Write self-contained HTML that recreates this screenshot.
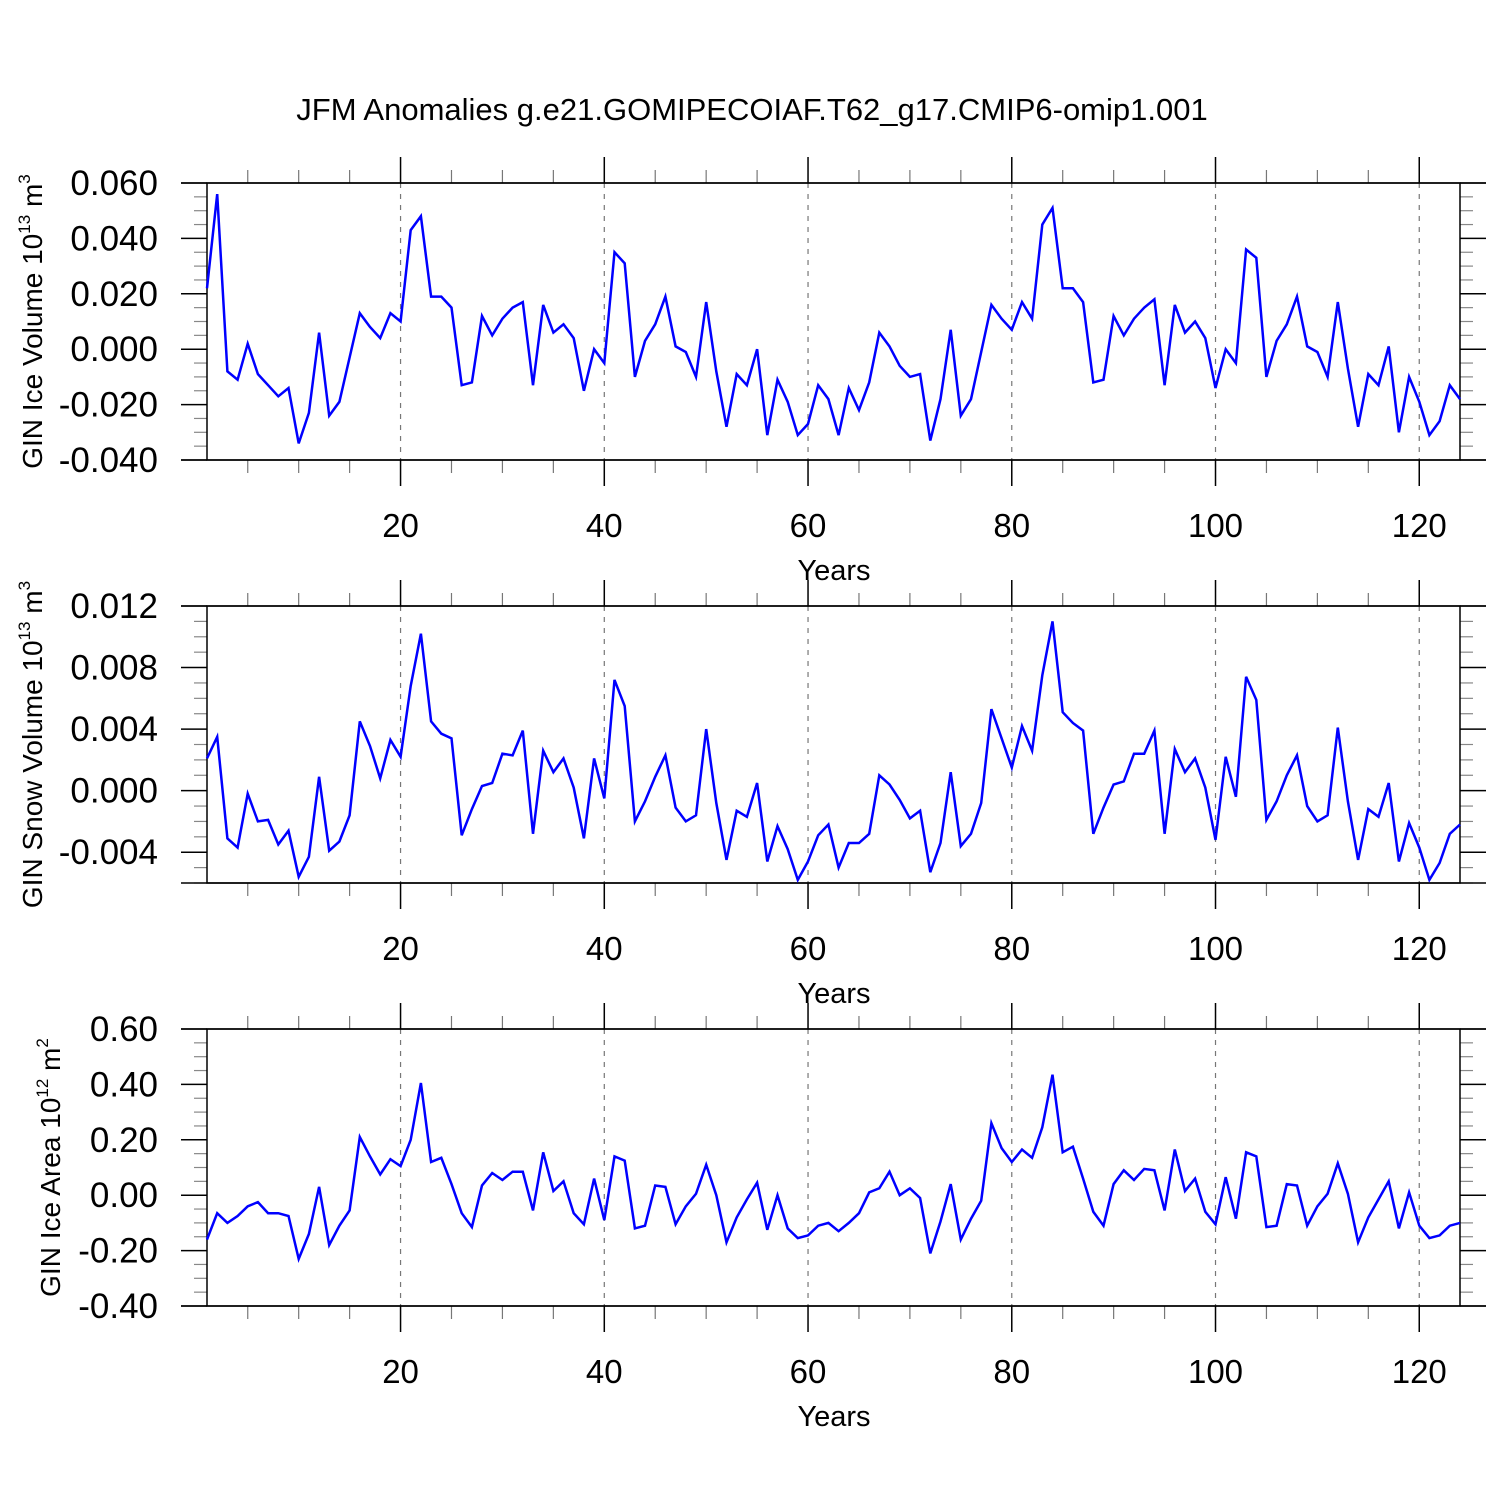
<!DOCTYPE html>
<html><head><meta charset="utf-8"><style>
html,body{margin:0;padding:0;background:#fff}
svg{display:block;font-family:"Liberation Sans",sans-serif}
</style></head><body>
<svg id="chart" width="1500" height="1500" viewBox="0 0 1500 1500">
<text x="752" y="120" font-size="31" text-anchor="middle">JFM Anomalies g.e21.GOMIPECOIAF.T62_g17.CMIP6-omip1.001</text>
</svg>
<script>
const years = Array.from({length:124},(_,i)=>i+1);
const xTicks = [20,40,60,80,100,120];
const iceVolume = [0.022,0.056,-0.008,-0.011,0.002,-0.009,-0.013,-0.017,-0.014,-0.034,-0.023,0.006,-0.024,-0.019,-0.003,0.013,0.008,0.004,0.013,0.010,0.043,0.048,0.019,0.019,0.015,-0.013,-0.012,0.012,0.005,0.011,0.015,0.017,-0.013,0.016,0.006,0.009,0.004,-0.015,0.000,-0.005,0.035,0.031,-0.010,0.003,0.009,0.019,0.001,-0.001,-0.010,0.017,-0.008,-0.028,-0.009,-0.013,0.000,-0.031,-0.011,-0.019,-0.031,-0.027,-0.013,-0.018,-0.031,-0.014,-0.022,-0.012,0.006,0.001,-0.006,-0.010,-0.009,-0.033,-0.018,0.007,-0.024,-0.018,-0.001,0.016,0.011,0.007,0.017,0.011,0.045,0.051,0.022,0.022,0.017,-0.012,-0.011,0.012,0.005,0.011,0.015,0.018,-0.013,0.016,0.006,0.010,0.004,-0.014,0.000,-0.005,0.036,0.033,-0.010,0.003,0.009,0.019,0.001,-0.001,-0.010,0.017,-0.007,-0.028,-0.009,-0.013,0.001,-0.030,-0.010,-0.019,-0.031,-0.026,-0.013,-0.018];
const snowVolume = [0.0021,0.0035,-0.0031,-0.0037,-0.0002,-0.0020,-0.0019,-0.0035,-0.0026,-0.0056,-0.0043,0.0009,-0.0039,-0.0033,-0.0016,0.0045,0.0029,0.0008,0.0033,0.0022,0.0068,0.0102,0.0045,0.0037,0.0034,-0.0029,-0.0012,0.0003,0.0005,0.0024,0.0023,0.0039,-0.0028,0.0026,0.0012,0.0021,0.0002,-0.0031,0.0021,-0.0005,0.0072,0.0055,-0.0020,-0.0007,0.0009,0.0023,-0.0011,-0.0020,-0.0016,0.0040,-0.0008,-0.0045,-0.0013,-0.0017,0.0005,-0.0046,-0.0023,-0.0038,-0.0058,-0.0046,-0.0029,-0.0022,-0.0050,-0.0034,-0.0034,-0.0028,0.0010,0.0004,-0.0006,-0.0018,-0.0013,-0.0053,-0.0034,0.0012,-0.0036,-0.0028,-0.0008,0.0053,0.0034,0.0015,0.0042,0.0026,0.0075,0.0110,0.0051,0.0044,0.0039,-0.0028,-0.0011,0.0004,0.0006,0.0024,0.0024,0.0039,-0.0028,0.0027,0.0012,0.0021,0.0002,-0.0032,0.0022,-0.0004,0.0074,0.0059,-0.0019,-0.0007,0.0010,0.0023,-0.0010,-0.0020,-0.0016,0.0041,-0.0007,-0.0045,-0.0012,-0.0017,0.0005,-0.0046,-0.0021,-0.0037,-0.0058,-0.0047,-0.0028,-0.0022];
const iceArea = [-0.16,-0.065,-0.10,-0.075,-0.04,-0.025,-0.065,-0.065,-0.075,-0.23,-0.14,0.03,-0.18,-0.11,-0.055,0.21,0.14,0.075,0.13,0.105,0.20,0.405,0.12,0.135,0.04,-0.065,-0.115,0.035,0.08,0.055,0.085,0.085,-0.055,0.155,0.015,0.05,-0.065,-0.105,0.06,-0.09,0.14,0.125,-0.12,-0.11,0.035,0.03,-0.105,-0.04,0.005,0.11,0.00,-0.17,-0.08,-0.015,0.045,-0.125,0.00,-0.12,-0.155,-0.145,-0.11,-0.10,-0.13,-0.10,-0.065,0.01,0.025,0.085,0.00,0.025,-0.01,-0.21,-0.095,0.04,-0.16,-0.085,-0.02,0.26,0.17,0.12,0.165,0.135,0.245,0.435,0.155,0.175,0.06,-0.06,-0.11,0.04,0.09,0.055,0.095,0.09,-0.055,0.165,0.015,0.06,-0.06,-0.105,0.065,-0.085,0.155,0.14,-0.115,-0.11,0.04,0.035,-0.11,-0.04,0.005,0.115,0.005,-0.17,-0.08,-0.015,0.05,-0.12,0.01,-0.11,-0.155,-0.145,-0.11,-0.10];
const yTicks1 = [-0.04,-0.02,0,0.02,0.04,0.06];
const yLabels1 = ["-0.040","-0.020","0.000","0.020","0.040","0.060"];
const yTicks2 = [-0.004,0,0.004,0.008,0.012];
const yLabels2 = ["-0.004","0.000","0.004","0.008","0.012"];
const yTicks3 = [-0.4,-0.2,0,0.2,0.4,0.6];
const yLabels3 = ["-0.40","-0.20","0.00","0.20","0.40","0.60"];

const NS="http://www.w3.org/2000/svg";
const svg=document.getElementById('chart');
function mk(tag,attrs,parent){const e=document.createElementNS(NS,tag);for(const k in attrs)e.setAttribute(k,attrs[k]);(parent||svg).appendChild(e);return e;}
const X0=207,X1=1460,xmin=1,xmax=124;
const xs=v=>X0+(v-xmin)/(xmax-xmin)*(X1-X0);

function panel(name,top,ymin,ymax,minorStep,vals,yt,yl,titleMain,exp,unit,titleX){
  const H=277,bot=top+H;
  const ys=v=>bot-(v-ymin)/(ymax-ymin)*H;
  const g=mk('g',{});
  
  
  xTicks.forEach(t=>{const l=mk('line',{x1:xs(t),x2:xs(t),y1:top,y2:bot,stroke:'#777','stroke-width':1.2,'stroke-dasharray':'5,6'},g);
    
    });
  for(let t=5;t<=120;t+=5){const maj=t%20===0;const L=maj?26:13;
    const a=mk('line',{x1:xs(t),x2:xs(t),y1:top-L,y2:top,stroke:maj?'#000':'#777','stroke-width':maj?1.5:1.2},g);
    
    
    const b=mk('line',{x1:xs(t),x2:xs(t),y1:bot,y2:bot+L,stroke:maj?'#000':'#777','stroke-width':maj?1.5:1.2},g);
    
    }
  const nMin=Math.round((ymax-ymin)/minorStep);
  for(let i=0;i<=nMin;i++){const v=ymin+i*minorStep;const maj=yt.some(t=>Math.abs(t-v)<minorStep/10);
    const L=maj?26:13;const y=ys(v);
    const a=mk('line',{x1:X0-L,x2:X0,y1:y,y2:y,stroke:maj?'#000':'#888','stroke-width':maj?1.5:1.2},g);
    
    
    const b=mk('line',{x1:X1,x2:X1+L,y1:y,y2:y,stroke:maj?'#000':'#888','stroke-width':maj?1.5:1.2},g);
    
    }
  const f=mk('rect',{x:X0,y:top,width:X1-X0,height:H,fill:'none',stroke:'#000','stroke-width':1.5},g);
  
  
  const ta=mk('line',{x1:X0-26,x2:X1+26,y1:top,y2:top,stroke:'#000','stroke-width':1.5},g);
  
  
  const ba=mk('line',{x1:X0-26,x2:X1+26,y1:bot,y2:bot,stroke:'#000','stroke-width':1.5},g);
  
  
  yt.forEach((t,i)=>{const tx=mk('text',{x:158,y:ys(t)+12,'font-size':35,'text-anchor':'end'},g);tx.textContent=yl[i];
    
    });
  xTicks.forEach(t=>{const tx=mk('text',{x:xs(t),y:bot+77,'font-size':33,'text-anchor':'middle'},g);tx.textContent=t;
    
    });
  const xt=mk('text',{x:834,y:bot+120,'font-size':29,'text-anchor':'middle'},g);xt.textContent='Years';
  
  
  const cy=top+H/2;
  const yttl=mk('text',{transform:`translate(${titleX},${cy}) rotate(-90)`,'font-size':28,'text-anchor':'middle'},g);
  
  
  const s1=mk('tspan',{},yttl);s1.textContent=titleMain+' 10';
  const s2=mk('tspan',{dy:-12,'font-size':17},yttl);s2.textContent=exp;
  const s3=mk('tspan',{dy:12},yttl);s3.textContent=' m';
  const s4=mk('tspan',{dy:-12,'font-size':17},yttl);s4.textContent=unit;
  const pts=vals.map((v,i)=>xs(years[i]).toFixed(1)+','+ys(v).toFixed(1)).join(' ');
  const pl=mk('polyline',{points:pts,fill:'none',stroke:'#0000ff','stroke-width':2.5,'stroke-linejoin':'miter'},g);
  
  
}
panel('ice-volume',183,-0.04,0.06,0.005,iceVolume,yTicks1,yLabels1,'GIN Ice Volume','13','3',42);
panel('snow-volume',606,-0.006,0.012,0.001,snowVolume,yTicks2,yLabels2,'GIN Snow Volume','13','3',42);
panel('ice-area',1029,-0.4,0.6,0.05,iceArea,yTicks3,yLabels3,'GIN Ice Area','12','2',60);
</script>
</body></html>
